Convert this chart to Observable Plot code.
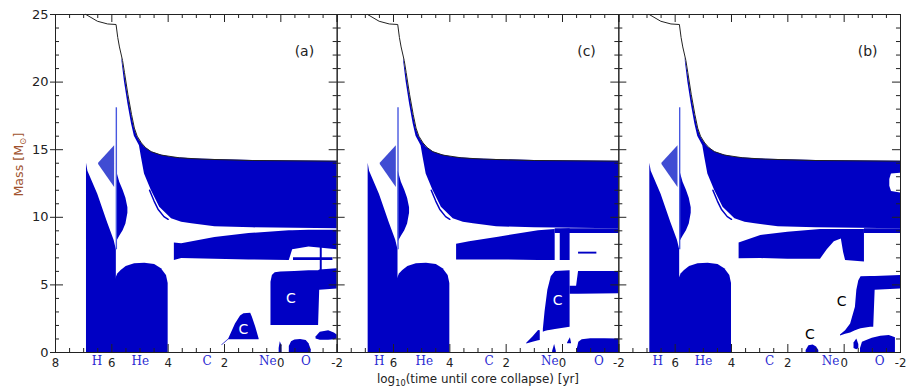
<!DOCTYPE html>
<html><head><meta charset="utf-8">
<script src="https://cdn.jsdelivr.net/npm/d3@7"></script>
<script src="https://cdn.jsdelivr.net/npm/@observablehq/plot@0.6"></script>
<style>body{margin:0;background:#fff}svg{display:block}</style>
</head><body><div id="chart"></div>
<script>
// ---------- data ----------
const panels = ["a", "c", "b"];
const panelNames = ["(a)", "(c)", "(b)"];
const massMajor = [0, 5, 10, 15, 20, 25];
const massMinor = [1,2,3,4,6,7,8,9,11,12,13,14,16,17,18,19,21,22,23,24];
const timeMajor = [8, 6, 4, 2, 0, -2];
const timeMinor = [7.5,7,6.5,5.5,5,4.5,3.5,3,2.5,1.5,1,0.5,-0.5,-1,-1.5];
const timeLabelsA = [8, 6, 4, 2, 0, -2];
const timeLabelsRest = [6, 4, 2, 0, -2];
const elementNames = ["H", "He", "C", "Ne", "O"];
const elementPosA = [6.53, 4.99, 2.62, 0.46, -0.89];
const elementPosC = [6.51, 4.91, 2.61, 0.45, -1.29];
const elementPosB = [6.62, 4.99, 2.65, 0.48, -1.26];

// shared early structure [logt, m_bottom, m_top]
const msCore = [[6.90,0,14.0],[6.85,0,13.4],[6.5,0,11.7],[6.15,0,9.6],[5.92,0,8.3],[5.84,0,7.6]];
const heCore = [[5.87,0,5.4],[5.79,0,5.8],[5.67,0,6.06],[5.49,0,6.36],[5.19,0,6.56],[4.83,0,6.6],[4.48,0,6.5],[4.24,0,6.2],[4.06,0,5.7],[4.0,0,5.1]];
const semiConv = [[6.47,13.9,14.0],[5.90,12.2,15.3]];
const hLine = [[5.84,7.6,18.1]];
const shellWedge = [[5.83,8.2,13.4],[5.72,8.6,12.6],[5.6,9.0,12.0],[5.5,9.5,11.4],[5.43,10.3,10.7]];
const envelope = [[5.64,21.55,21.8],[5.55,20.0,20.7],[5.43,18.4,19.1],[5.30,16.9,17.6],[5.20,16.0,16.6],[5.10,15.6,16.0],[5.02,15.3,15.7],[4.95,14.45,15.5],[4.84,13.2,15.2],[4.60,12.0,14.85],[4.30,10.75,14.62],[3.88,9.9,14.45],[3.52,9.64,14.38],[3.16,9.52,14.33],[2.34,9.3,14.27],[1.0,9.22,14.2],[-2.0,9.15,14.15]];
const thinArc = [[4.66,12.0],[4.50,11.2],[4.36,10.6],[4.15,10.05],[4.0,9.85]];
const surface = [[6.92,25.0],[6.51,24.5],[6.15,24.3],[5.85,24.26],[5.79,23.3],[5.73,22.6],[5.62,21.6],[5.55,20.7],[5.43,19.1],[5.30,17.6],[5.20,16.6],[5.10,16.0],[4.95,15.5],[4.80,15.15],[4.60,14.85],[4.24,14.6],[3.6,14.4],[2.8,14.3],[1.0,14.2],[-2.0,14.15]];

// panel (a) late phases
const bandA = [[3.78,6.8,8.1],[3.52,6.95,8.05],[2.34,6.9,8.5],[1.13,6.85,8.8],[-0.3,6.8,9.0],[-0.42,7.6,9.0],[-1.0,7.8,9.05],[-2.0,7.6,9.05]];
const stripeA = [[-0.45,6.8,7.0],[-1.85,6.8,7.0]];
const vStripeA = [[-1.40,5.0,7.8],[-1.47,5.0,7.8]];
const cShellA = [[0.35,2.0,5.2],[0.30,2.0,5.7],[0.2,2.0,5.9],[0.0,2.0,5.95],[-0.5,2.0,6.0],[-1.0,2.0,6.05],[-1.34,2.0,6.05],[-1.38,4.6,6.1],[-2.0,4.7,6.2]];
const cCoreA = [[2.09,0.5,0.55],[1.85,0.94,1.0],[1.61,0.94,2.1],[1.43,0.94,2.7],[1.31,0.94,2.86],[1.07,0.94,2.9],[1.01,0.94,2.6],[0.89,0.94,1.87],[0.77,0.94,1.0]];
const neSpikeA = [[0.06,0,0.3],[0.02,0,0.8],[-0.04,0,0.5]];
const oCoreA = [[-0.30,0,0.45],[-0.38,0,0.8],[-0.5,0,0.93],[-0.7,0,0.96],[-0.9,0,0.88],[-1.0,0,0.65],[-1.08,0,0.2]];
const oShellA = [[-1.25,1.0,1.15],[-1.4,0.9,1.5],[-1.7,0.9,1.6],[-1.9,0.95,1.45],[-2.0,1.0,1.3]];

// panel (c) late phases
const bandC1 = [[3.76,6.85,8.0],[3.3,6.85,8.2],[2.27,6.85,8.53],[0.85,6.8,9.0],[0.26,6.8,9.1]];
const bandC2 = [[0.08,6.8,9.1],[-0.27,6.8,9.15]];
const stripeC = [[0.26,8.8,9.15],[-2.0,8.8,9.15]];
const dashC = [[-0.57,7.28,7.42],[-1.22,7.28,7.42]];
const cShellC1 = [[0.68,1.5,1.7],[0.62,1.55,3.0],[0.52,1.6,4.6],[0.40,1.65,5.6],[0.25,1.7,6.0],[-0.27,1.87,6.05]];
const cShellC2 = [[-0.27,4.3,4.9],[-0.50,4.3,4.9],[-0.57,4.3,6.0],[-2.0,4.35,6.0]];
const cCoreC = [[1.27,0.62,0.68],[1.05,0.75,1.15],[0.85,0.86,1.63],[0.79,0.89,1.6]];
const neSpikeC = [[0.35,0,0.1],[0.28,0,0.6],[0.22,0,0.1]];
const smallTriC = [[-0.18,0.65,0.7],[-0.28,0.65,1.1],[-0.32,0.65,0.7]];
const oCoreC = [[-0.52,0,0.2],[-0.58,0,0.75],[-0.7,0,0.95],[-1.0,0,1.02],[-1.5,0,1.02],[-2.0,0,1.0]];

// panel (b) late phases
const bandB = [[3.73,6.93,8.1],[2.96,6.95,8.65],[2.0,6.9,8.9],[0.84,6.9,9.1],[0.6,7.6,9.1],[0.35,8.2,9.1],[0.1,8.4,9.1],[0.02,7.4,9.1],[-0.05,6.8,9.1],[-0.72,6.7,9.1]];
const stripeB = [[-0.72,8.8,9.15],[-2.0,8.8,9.15]];
const cShellB = [[0.13,1.22,1.3],[-0.05,1.35,1.6],[-0.23,1.45,2.1],[-0.4,1.6,3.35],[-0.45,1.65,4.6],[-0.52,1.7,5.3],[-0.6,1.75,5.6],[-0.94,1.87,5.62],[-1.05,1.87,5.62],[-1.1,4.6,5.62],[-2.0,4.7,5.7]];
const cCoreB = [[1.35,0,0.15],[1.25,0,0.5],[1.1,0,0.55],[0.98,0,0.4],[0.9,0,0.15]];
const dotsB = [[-0.35,0.3,0.7],[-0.45,0.2,1.0],[-0.52,0.3,0.6]];
const oCoreB = [[-0.58,0,0.3],[-0.65,0,0.75],[-0.8,0,0.89],[-1.0,0,1.05],[-1.3,0,1.2],[-1.6,0,1.25],[-1.75,0,1.15],[-1.82,0,1.1]];
const holeB = [[-1.62,12.3,12.8],[-1.68,11.9,13.2],[-2.0,11.8,13.25]];

// in-panel labels
const cLabelPanel = ["a", "a", "c", "b", "b"];
const cLabelX = [-0.36, 1.33, 0.17, 0.09, 1.22];
const cLabelY = [3.97, 1.7, 3.85, 3.8, 1.3];
const cLabelColor = ["white", "white", "white", "black", "black"];

// ---------- build tables ----------
const BLUE = "#0000c4";
const NARROW = "Liberation Sans Narrow, DejaVu Sans Condensed, sans-serif";
const W = 909, H = 387, mL = 55, mR = 9, mT = 14, mB = 35;
const facetW = (W - mL - mR) / 3, plotH = H - mT - mB;

const toRows = (pts, id, panel) => pts.map(([x, y1, y2]) => ({id, panel, x, y1, y2}));
const sharedRows = [
  ...toRows(msCore, "ms"), ...toRows(heCore, "he"),
  ...toRows(shellWedge, "sw"), ...toRows(envelope, "env")
];
const lateRows = [
  ["a","bandA",bandA],["a","stripeA",stripeA],["a","vStripeA",vStripeA],["a","cShellA",cShellA],
  ["a","cCoreA",cCoreA],["a","neSpikeA",neSpikeA],["a","oCoreA",oCoreA],["a","oShellA",oShellA],
  ["c","bandC1",bandC1],["c","bandC2",bandC2],["c","stripeC",stripeC],["c","dashC",dashC],
  ["c","cShellC1",cShellC1],["c","cShellC2",cShellC2],["c","cCoreC",cCoreC],["c","neSpikeC",neSpikeC],
  ["c","smallTriC",smallTriC],["c","oCoreC",oCoreC],
  ["b","bandB",bandB],["b","stripeB",stripeB],["b","cShellB",cShellB],["b","cCoreB",cCoreB],
  ["b","dotsB",dotsB],["b","oCoreB",oCoreB]
].flatMap(([p, id, pts]) => toRows(pts, id, p));
const holeRows = toRows(holeB, "holeB", "b");

const xLabelRows = [
  ...timeLabelsA.map(v => ({panel: "a", v})),
  ...timeLabelsRest.map(v => ({panel: "c", v})),
  ...timeLabelsRest.map(v => ({panel: "b", v}))
];
const elemRows = [
  ...elementNames.map((n, i) => ({panel: "a", n, v: elementPosA[i]})),
  ...elementNames.map((n, i) => ({panel: "c", n, v: elementPosC[i]})),
  ...elementNames.map((n, i) => ({panel: "b", n, v: elementPosB[i]}))
];
const cRows = cLabelPanel.map((p, i) => ({panel: p, x: cLabelX[i], y: cLabelY[i], c: cLabelColor[i]}));
const yLabelRows = massMajor.map(v => ({panel: "a", v}));
const panelRows = panels.map((p, i) => ({panel: p, label: panelNames[i]}));

const fmt = v => (v < 0 ? "-" + Math.abs(v) : String(v));

const chart = Plot.plot({
  width: W, height: H,
  marginLeft: mL, marginRight: mR, marginTop: mT, marginBottom: mB,
  style: {fontFamily: "DejaVu Sans, sans-serif", fontSize: "13px", background: "white", color: "#222", overflow: "visible"},
  x: {domain: [8, -2], axis: null},
  y: {domain: [0, 25], axis: null},
  fx: {domain: panels, padding: 0, axis: null, round: false},
  marks: [
    Plot.areaY(sharedRows, {x: "x", y1: "y1", y2: "y2", z: "id", fill: BLUE}),
    Plot.areaY(toRows(semiConv, "semi"), {x: "x", y1: "y1", y2: "y2", fill: "#0a1ac6", fillOpacity: 0.78}),
    Plot.ruleX(hLine.map(([x, y1, y2]) => ({x, y1, y2})), {x: "x", y1: "y1", y2: "y2", stroke: "#4858e0", strokeWidth: 1.4}),
    Plot.line(thinArc, {x: d => d[0], y: d => d[1], stroke: BLUE, strokeWidth: 1.5}),
    Plot.areaY(lateRows, {x: "x", y1: "y1", y2: "y2", z: "id", fx: "panel", fill: BLUE}),
    Plot.areaY(holeRows, {x: "x", y1: "y1", y2: "y2", fx: "panel", fill: "white"}),
    Plot.line(surface, {x: d => d[0], y: d => d[1], stroke: "#222", strokeWidth: 1}),
    Plot.frame({stroke: "#222", strokeWidth: 1}),
    // inward ticks
    Plot.tickX(timeMinor, {x: d => d, insetTop: plotH - 4, stroke: "#222"}),
    Plot.tickX(timeMajor, {x: d => d, insetTop: plotH - 8, stroke: "#222"}),
    Plot.tickX(timeMinor, {x: d => d, insetBottom: plotH - 4, stroke: "#222"}),
    Plot.tickX(timeMajor, {x: d => d, insetBottom: plotH - 8, stroke: "#222"}),
    Plot.tickY(massMinor, {y: d => d, insetRight: facetW - 4, stroke: "#222"}),
    Plot.tickY(massMajor, {y: d => d, insetRight: facetW - 8, stroke: "#222"}),
    Plot.tickY(massMinor, {y: d => d, insetLeft: facetW - 4, stroke: "#222"}),
    Plot.tickY(massMajor, {y: d => d, insetLeft: facetW - 8, stroke: "#222"}),
    Plot.tickY(yLabelRows, {fx: "panel", y: "v", insetRight: facetW - 5, dx: -5, stroke: "#222"}),
    // tick labels
    Plot.text(yLabelRows, {fx: "panel", y: "v", text: d => String(d.v), frameAnchor: "left", textAnchor: "end", dx: -7, fontSize: 13, fill: "#222"}),
    Plot.text(xLabelRows, {fx: "panel", x: "v", text: d => fmt(d.v), frameAnchor: "bottom", dy: 10, lineAnchor: "middle", fontSize: 13, fill: "#222", fontFamily: NARROW}),
    Plot.text(elemRows, {fx: "panel", x: "v", text: "n", frameAnchor: "bottom", dy: 9, lineAnchor: "middle", fontSize: 12, fill: "#2a2ad2", fontFamily: "DejaVu Serif, serif"}),
    // panel letters and C labels
    Plot.text(panelRows, {fx: "panel", text: "label", frameAnchor: "top-right", textAnchor: "end", lineAnchor: "middle", dx: -23, dy: 37, fontSize: 14, fill: "#222"}),
    Plot.text(cRows, {fx: "panel", x: "x", y: "y", text: () => "C", fill: "c", fontSize: 14}),
    // axis titles
    Plot.text([{panel: "c"}], {fx: "panel", x: () => 3, text: () => "XTITLE", frameAnchor: "bottom", dy: 26, lineAnchor: "middle", fontSize: 13, fill: "#222", fontFamily: NARROW}),
    Plot.text([{panel: "a"}], {fx: "panel", text: () => "YTITLE", frameAnchor: "left", rotate: -90, dx: -37, lineAnchor: "middle", fontSize: 13, fill: "#a0522d", fontFamily: NARROW})
  ]
});

document.getElementById("chart").appendChild(chart);

// rich text for axis titles (subscripts), fitted to the reference width and re-centred
function rich(svg, placeholder, parts, length) {
  for (const t of svg.querySelectorAll("text")) {
    if (t.textContent !== placeholder) continue;
    const b0 = t.getBBox();
    const centre = b0.x + b0.width / 2;
    t.textContent = "";
    let prevSub = false;
    for (const [s, sub] of parts) {
      const ts = document.createElementNS("http://www.w3.org/2000/svg", "tspan");
      ts.textContent = s;
      if (sub) { ts.setAttribute("font-size", "9"); ts.setAttribute("dy", "3"); }
      else if (prevSub) ts.setAttribute("dy", "-3");
      prevSub = sub;
      t.appendChild(ts);
    }
    t.setAttribute("textLength", length);
    t.setAttribute("lengthAdjust", "spacingAndGlyphs");
    const b1 = t.getBBox();
    const shift = centre - (b1.x + b1.width / 2);
    t.firstChild.setAttribute("dx", shift.toFixed(2));
  }
}
rich(chart, "XTITLE", [["log", false], ["10", true], ["(time until core collapse) [yr]", false]], 202);
rich(chart, "YTITLE", [["Mass [M", false], ["\u2299", true], ["]", false]], 64);
</script>
</body></html>
